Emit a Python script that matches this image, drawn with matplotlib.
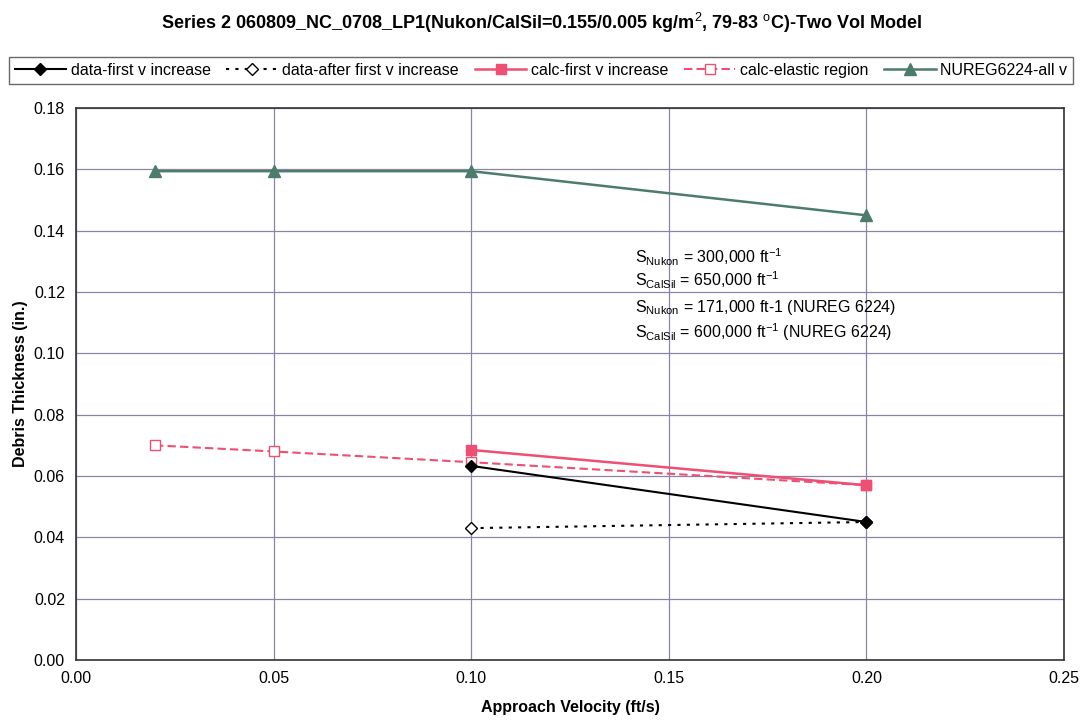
import numpy as np
import matplotlib
matplotlib.use("Agg")
import matplotlib.pyplot as plt

plt.rcParams['font.family'] = ['Liberation Sans', 'DejaVu Sans']
plt.rcParams['mathtext.fontset'] = 'custom'
plt.rcParams['mathtext.rm'] = 'Liberation Sans'
plt.rcParams['mathtext.it'] = 'Liberation Sans'
plt.rcParams['mathtext.bf'] = 'Liberation Sans:bold'
plt.rcParams['mathtext.default'] = 'rm'

# data
v_data_first = [0.10, 0.20]
t_data_first = [0.0633, 0.045]
v_data_after = [0.10, 0.20]
t_data_after = [0.043, 0.045]
v_calc_first = [0.10, 0.20]
t_calc_first = [0.0685, 0.057]
v_calc_elastic = [0.02, 0.05, 0.10, 0.20]
t_calc_elastic = [0.070, 0.068, 0.0645, 0.057]
v_nureg = [0.02, 0.05, 0.10, 0.20]
t_nureg = [0.1594, 0.1594, 0.1594, 0.145]

pink = '#EE4F72'
green = '#4E7C6C'

fig = plt.figure(figsize=(10.82, 7.27), dpi=100)
ax = fig.add_axes([76/1082, 67/727, 988/1082, 552/727])

ax.plot(v_data_first, t_data_first, color='black', lw=1.5, marker='D', ms=6,
        label='data-first v increase', zorder=5)
ax.plot(v_data_after, t_data_after, color='black', lw=1.5, ls=(0, (1.5, 3)),
        marker='D', ms=6, mfc='white', mec='black', label='data-after first v increase', zorder=4)
ax.plot(v_calc_first, t_calc_first, color=pink, lw=1.8, marker='s', ms=7,
        label='calc-first v increase', zorder=4.5)
ax.plot(v_calc_elastic, t_calc_elastic, color=pink, lw=1.5, ls=(0, (4, 2)),
        marker='s', ms=7, mfc='white', mec=pink, label='calc-elastic region', zorder=3)
ax.plot(v_nureg, t_nureg, color=green, lw=1.8, marker='^', ms=8,
        label='NUREG6224-all v', zorder=3)

ax.set_xlim(0, 0.25)
ax.set_ylim(0, 0.18)
ax.set_xticks(np.arange(0, 0.26, 0.05))
ax.set_yticks(np.arange(0, 0.181, 0.02))
ax.xaxis.set_major_formatter(matplotlib.ticker.FormatStrFormatter('%.2f'))
ax.yaxis.set_major_formatter(matplotlib.ticker.FormatStrFormatter('%.2f'))
ax.tick_params(labelsize=11.5, length=0, pad=8)
ax.grid(True, color='#8A85A8', lw=0.9)
for s in ax.spines.values():
    s.set_color('#333333')
    s.set_linewidth(1.2)

ax.set_xlabel('Approach Velocity (ft/s)', fontsize=11.5, fontweight='bold', labelpad=10)
ax.set_ylabel('Debris Thickness (in.)', fontsize=11.5, fontweight='bold', labelpad=4)

fig.suptitle(r'Series 2 060809_NC_0708_LP1(Nukon/CalSil=0.155/0.005 kg/m$^2$, 79-83 $^o$C)-Two Vol Model',
             fontsize=13, fontweight='bold', y=0.985)

fig.legend(loc='center', bbox_to_anchor=(0.5, 0.903), ncol=5, fontsize=11.5,
           frameon=True, fancybox=False, edgecolor='#444444', handlelength=3.2,
           handletextpad=0.3, columnspacing=1.0, borderpad=0.35)

notes = [r'S$_{Nukon}$ = 300,000 ft$^{-1}$',
         r'S$_{CalSil}$ = 650,000 ft$^{-1}$',
         r'S$_{Nukon}$ = 171,000 ft-1 (NUREG 6224)',
         r'S$_{CalSil}$ = 600,000 ft$^{-1}$ (NUREG 6224)']
note_y = [0.1314, 0.1239, 0.1151, 0.1069]
for txt, yy in zip(notes, note_y):
    ax.text(0.1415, yy, txt, fontsize=11.5, va='center', ha='left')

fig.savefig('out.png', dpi=100)
